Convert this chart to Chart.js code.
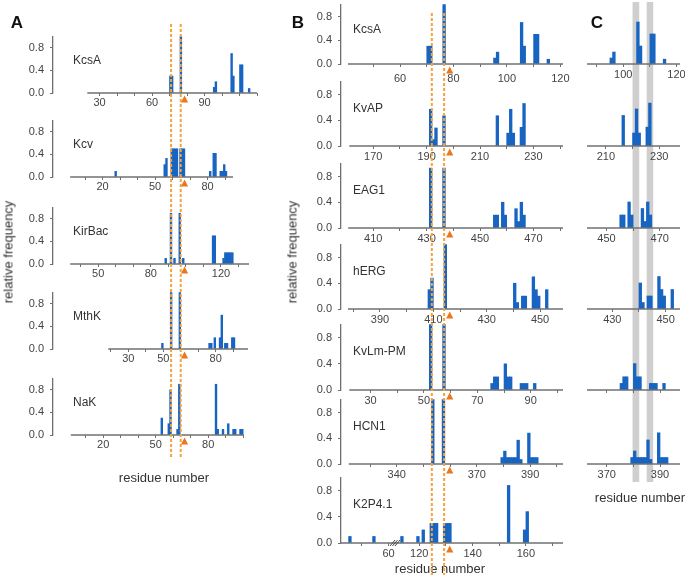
<!DOCTYPE html>
<html>
<head>
<meta charset="utf-8">
<script src="https://cdn.jsdelivr.net/npm/chart.js@4.4.1/dist/chart.umd.min.js"></script>
<style>
  body { margin: 0; background: #fff; width: 685px; height: 576px; position: relative; overflow: hidden;
         font-family: "Liberation Sans", Arial, sans-serif; }
  canvas { position: absolute; }
  .t { position: absolute; color: #333; white-space: nowrap; transform: translate(-50%, -50%); font-size: 13px; }
  .big { font-weight: bold; font-size: 17px; color: #111; }
  .rot { transform: translate(-50%, -50%) rotate(-90deg); }
</style>
</head>
<body>
<canvas id="back" width="685" height="576" style="left:0;top:0"></canvas>
<div id="charts"></div>
<canvas id="front" width="685" height="576" style="left:0;top:0;z-index:5;pointer-events:none"></canvas>

<div class="t big" style="left:17px;top:23px">A</div>
<div class="t big" style="left:298px;top:23px">B</div>
<div class="t big" style="left:597px;top:23px">C</div>
<div class="t rot" style="left:8px;top:252px">relative frequency</div>
<div class="t rot" style="left:292px;top:252px">relative frequency</div>
<div class="t" style="left:164px;top:477px">residue number</div>
<div class="t" style="left:440px;top:568px">residue number</div>
<div class="t" style="left:640px;top:497px">residue number</div>

<script>
// ---- data: residue number -> relative frequency ----
const kcsaRes  = [70, 71, 76, 95, 96, 105, 106, 110, 111, 115];
const kcsaFreq = [0.3, 0.3, 1.0, 0.1, 0.2, 0.7, 0.3, 0.5, 0.5, 0.08];

const kcvRes  = [27, 55, 56, 59, 60, 61, 62, 64, 65, 66, 81, 83, 84, 87, 88, 89, 90];
const kcvFreq = [0.1, 0.22, 0.33, 0.5, 0.5, 0.5, 0.5, 0.5, 0.5, 0.5, 0.1, 0.42, 0.42, 0.1, 0.1, 0.22, 0.1];

const kirbacRes  = [88, 91, 93, 96, 98, 115, 116, 121, 122, 123, 124, 125, 126];
const kirbacFreq = [0.1, 0.9, 0.1, 0.9, 0.1, 0.5, 0.5, 0.1, 0.2, 0.2, 0.2, 0.2, 0.2];

const mthkRes  = [49, 54, 59, 76, 77, 79, 82, 83, 85, 86, 89, 90];
const mthkFreq = [0.1, 1.0, 1.0, 0.1, 0.1, 0.2, 0.2, 0.6, 0.1, 0.1, 0.2, 0.2];

const nakRes  = [53, 57, 58, 62, 63, 84, 85, 88, 91, 94, 95, 98, 99];
const nakFreq = [0.3, 0.2, 0.8, 0.1, 0.9, 0.9, 0.1, 0.1, 0.2, 0.1, 0.1, 0.1, 0.1];

const kvapRes  = [191, 192, 193, 196, 216, 220, 221, 222, 225, 226];
const kvapFreq = [0.57, 0.1, 0.28, 0.47, 0.47, 0.2, 0.57, 0.2, 0.29, 0.66];

const eag1Res  = [431, 436, 455, 456, 458, 459, 463, 464, 465, 466];
const eag1Freq = [0.93, 0.93, 0.2, 0.2, 0.4, 0.2, 0.3, 0.1, 0.4, 0.2];

const hergRes  = [408, 409, 414, 440, 441, 443, 444, 447, 448, 449, 452];
const hergFreq = [0.3, 0.48, 1.0, 0.4, 0.1, 0.2, 0.2, 0.5, 0.3, 0.2, 0.3];

const kvlmRes  = [52, 57, 75, 76, 77, 80, 81, 82, 86, 87, 88, 91];
const kvlmFreq = [1.0, 1.0, 0.1, 0.2, 0.2, 0.4, 0.2, 0.2, 0.1, 0.1, 0.1, 0.1];

const hcn1Res  = [353, 357, 379, 380, 381, 382, 383, 384, 385, 386, 389, 390, 391, 392];
const hcn1Freq = [1.0, 1.0, 0.1, 0.2, 0.1, 0.1, 0.1, 0.1, 0.37, 0.07, 0.48, 0.1, 0.1, 0.1];

const k2pRes  = [45, 54, 113, 119, 121, 124, 125, 126, 129, 130, 131, 153, 159, 160];
const k2pFreq = [0.1, 0.1, 0.1, 0.1, 0.2, 0.3, 0.3, 0.3, 0.3, 0.3, 0.3, 0.88, 0.2, 0.48];

// labelled ticks on each x axis
const kcsaTicksA = [30, 60, 90];
const kcvTicks = [20, 50, 80];
const kirbacTicks = [50, 80, 120];
const mthkTicks = [30, 50, 80];
const nakTicks = [20, 50, 80];
const kcsaTicksB = [60, 80, 100, 120];
const kvapTicksB = [170, 190, 210, 230];
const eag1TicksB = [410, 430, 450, 470];
const hergTicksB = [390, 410, 430, 450];
const kvlmTicksB = [30, 50, 70, 90];
const hcn1TicksB = [340, 370, 390];
const k2pTicks = [60, 120, 140, 160];
const kcsaTicksC = [100, 120];
const kvapTicksC = [210, 230];
const eag1TicksC = [450, 470];
const hergTicksC = [430, 450];
const kvlmTicksC = [];
const hcn1TicksC = [370, 390];

const yTicks = [0, 0.2, 0.4, 0.6, 0.8, 1.0];
const yLabelled = [0, 0.4, 0.8];

// filter markers (in KcsA residue numbers of each column)
const filterLinesA = [70.9, 76.4];
const filterLinesB = [71.9, 76.5];
const arrowRes = 78.6;
const greyBandsC = [[103.5, 106], [108.8, 111.25]];

const AX = '#707070';
const BAR = '#1764c2';
const FONT = '"Liberation Sans", Arial, sans-serif';

const cols = {
  A: { left: 53, k: 1.75, yAxis: true, nameDx: 20 },
  B: { left: 341, k: 2.667, yAxis: true, nameDx: 12 },
  C: { left: 587, k: 2.667, yAxis: false }
};

const panels = [
  { col: 'A', name: 'KcsA', res: kcsaRes, freq: kcsaFreq, labels: kcsaTicksA, min: 3.4, max: 120, from: 23, base: 93, unit: 57, lp: 0.5 },
  { col: 'A', name: 'Kcv', res: kcvRes, freq: kcvFreq, labels: kcvTicks, min: -8.3, max: 94.5, from: 1.5, base: 177, unit: 57, lp: 0.5 },
  { col: 'A', name: 'KirBac', res: kirbacRes, freq: kirbacFreq, labels: kirbacTicks, min: 24.2, max: 136, from: 34, base: 264, unit: 57, lp: 0.5 },
  { col: 'A', name: 'MthK', res: mthkRes, freq: mthkFreq, labels: mthkTicks, min: -13.1, max: 98.5, from: 18.5, base: 349, unit: 57, lp: 0.5 },
  { col: 'A', name: 'NaK', res: nakRes, freq: nakFreq, labels: nakTicks, min: -8.7, max: 100.5, from: 1.5, base: 435, unit: 57, lp: 0.5 },

  { col: 'B', name: 'KcsA', res: kcsaRes, freq: kcsaFreq, labels: kcsaTicksB, min: 37.9, max: 121, from: 40.5, base: 64, unit: 60, lp: 5 },
  { col: 'B', name: 'KvAP', res: kvapRes, freq: kvapFreq, labels: kvapTicksB, min: 157.9, max: 241.1, from: 161, base: 146, unit: 65, lp: 1.5 },
  { col: 'B', name: 'EAG1', res: eag1Res, freq: eag1Freq, labels: eag1TicksB, min: 397.9, max: 481.1, from: 400.6, base: 228, unit: 65, lp: 1.5 },
  { col: 'B', name: 'hERG', res: hergRes, freq: hergFreq, labels: hergTicksB, min: 375.4, max: 458.6, from: 378, base: 309, unit: 65, lp: 1.5 },
  { col: 'B', name: 'KvLm-PM', res: kvlmRes, freq: kvlmFreq, labels: kvlmTicksB, min: 18.9, max: 102.1, from: 22, base: 390, unit: 66, lp: 1.5 },
  { col: 'B', name: 'HCN1', res: hcn1Res, freq: hcn1Freq, labels: hcn1TicksB, min: 319.1, max: 402.3, from: 322, base: 464, unit: 65, lp: 1.5 },
  { col: 'B', name: 'K2P4.1', res: k2pRes, freq: k2pFreq, labels: k2pTicks, min: 42.15, max: 125.4, from: 42.15, base: 543, unit: 66, lp: 1.5,
    shift: 48.5, brk: 62.4 },

  { col: 'C', res: kcsaRes, freq: kcsaFreq, labels: kcsaTicksC, min: 86.4, max: 121.3, base: 64, unit: 60, lp: 1.5 },
  { col: 'C', res: kvapRes, freq: kvapFreq, labels: kvapTicksC, min: 202.9, max: 237.8, base: 146, unit: 65, lp: 1.5 },
  { col: 'C', res: eag1Res, freq: eag1Freq, labels: eag1TicksC, min: 442.7, max: 477.6, base: 228, unit: 65, lp: 1.5 },
  { col: 'C', res: hergRes, freq: hergFreq, labels: hergTicksC, min: 420.5, max: 455.4, base: 309, unit: 65, lp: 1.5 },
  { col: 'C', res: kvlmRes, freq: kvlmFreq, labels: kvlmTicksC, min: 62.6, max: 97.5, base: 390, unit: 66, lp: 1.5 },
  { col: 'C', res: hcn1Res, freq: hcn1Freq, labels: hcn1TicksC, min: 362.6, max: 397.5, base: 464, unit: 65, lp: 1.5 }
];

// residue -> position on the (possibly broken) axis
function toX(p, r) {
  return p.shift && r >= 90 ? r - p.shift : r;
}

// tick marks every 10 residues along the drawn part of the axis
function tickResidues(p) {
  const from = p.from === undefined ? p.min : p.from;
  const hiReal = p.shift ? p.max + p.shift : p.max;
  const out = [];
  for (let v = Math.ceil(from / 10) * 10; v <= hiReal; v += 10) {
    const d = toX(p, v);
    if (d < from || d > p.max) continue;
    if (p.brk && ((v < 90 && d > p.brk - 1) || (v >= 90 && d < p.brk + 1))) continue;
    out.push(v);
  }
  return out;
}

// axis line, axis break and protein name, drawn per panel
function panelDeco(p) {
  return {
    id: 'panelDeco',
    afterDraw(chart) {
      const { ctx, chartArea: a, scales: { x, y } } = chart;
      const from = p.from === undefined ? p.min : p.from;
      ctx.save();
      ctx.strokeStyle = AX;
      ctx.lineWidth = 1.3;
      ctx.beginPath();
      ctx.moveTo(x.getPixelForValue(from), a.bottom);
      ctx.lineTo(x.getPixelForValue(p.max), a.bottom);
      ctx.stroke();
      if (p.brk) {
        const bx = x.getPixelForValue(p.brk);
        ctx.strokeStyle = '#444';
        ctx.lineWidth = 1;
        for (const dx of [-2.5, 0, 2.5]) {
          ctx.beginPath();
          ctx.moveTo(bx + dx - 2.5, a.bottom + 3);
          ctx.lineTo(bx + dx + 2.5, a.bottom - 3);
          ctx.stroke();
        }
      }
      if (p.name) {
        ctx.fillStyle = '#333';
        ctx.font = '12px ' + FONT;
        ctx.textBaseline = 'middle';
        ctx.fillText(p.name, a.left + cols[p.col].nameDx, y.getPixelForValue(0.58));
      }
      ctx.restore();
    }
  };
}

const holder = document.getElementById('charts');
const charts = panels.map(p => {
  const c = cols[p.col];
  const yw = c.yAxis ? 53 : 0;
  const padL = c.yAxis ? 0 : 20, padR = 20, padT = 12, xh = 24;
  const left = c.left - (c.yAxis ? yw : padL);
  const width = Math.round(c.left + (p.max - p.min) * c.k - left + padR);
  const top = p.base - p.unit - padT;
  const height = padT + p.unit + xh;

  const cv = document.createElement('canvas');
  cv.width = width; cv.height = height;
  cv.style.left = left + 'px'; cv.style.top = top + 'px';
  cv.style.width = width + 'px'; cv.style.height = height + 'px';
  holder.appendChild(cv);

  const ticksReal = tickResidues(p);
  const chart = new Chart(cv, {
    type: 'bar',
    data: {
      datasets: [{
        data: p.res.map((r, i) => ({ x: toX(p, r) + 0.5, y: p.freq[i] })),
        backgroundColor: BAR,
        borderWidth: 0,
        barThickness: c.k,
        clip: { left: 0, right: 0, top: false, bottom: 0 }
      }]
    },
    options: {
      responsive: false,
      animation: false,
      events: [],
      layout: { padding: { left: padL, right: padR, top: padT, bottom: 0 } },
      plugins: { legend: { display: false }, tooltip: { enabled: false } },
      scales: {
        x: {
          type: 'linear', min: p.min, max: p.max, offset: false,
          afterFit: s => { s.height = xh; },
          afterBuildTicks: s => { s.ticks = ticksReal.map(v => ({ value: toX(p, v) })); },
          grid: { drawOnChartArea: false, tickLength: 3, color: AX, lineWidth: 1, offset: false },
          border: { display: false },
          ticks: {
            autoSkip: false, maxRotation: 0, minRotation: 0, padding: p.lp,
            color: '#444', font: { family: FONT, size: 11 },
            callback: (v, i) => p.labels.includes(ticksReal[i]) ? String(ticksReal[i]) : ''
          }
        },
        y: {
          display: c.yAxis, min: 0, max: 1,
          afterFit: s => { s.width = yw; },
          afterBuildTicks: s => { s.ticks = yTicks.map(v => ({ value: v })); },
          grid: { drawOnChartArea: false, tickLength: 3, color: AX, lineWidth: 1 },
          border: { display: true, color: AX, width: 1.3 },
          ticks: {
            padding: 6, color: '#444', font: { family: FONT, size: 11 },
            callback: v => yLabelled.some(t => Math.abs(t - v) < 1e-6) ? v.toFixed(1) : ''
          }
        }
      }
    },
    plugins: [panelDeco(p)]
  });
  chart.$left = left;
  chart.$top = top;
  return chart;
});

// ---- overlays spanning the stacked panels ----
const gx = (ch, r) => ch.$left + ch.scales.x.getPixelForValue(r);
const gy = (ch, v) => ch.$top + ch.scales.y.getPixelForValue(v);
const refA = charts[panels.findIndex(p => p.col === 'A')];
const refB = charts[panels.findIndex(p => p.col === 'B')];
const refC = charts[panels.findIndex(p => p.col === 'C')];

const back = document.getElementById('back').getContext('2d');
back.fillStyle = '#cfcfcf';
greyBandsC.forEach(([a, b]) => {
  const x0 = gx(refC, a), x1 = gx(refC, b);
  back.fillRect(x0, 2, x1 - x0, 480);
});

const front = document.getElementById('front').getContext('2d');
front.strokeStyle = '#f5a33a';
front.lineWidth = 2;
front.setLineDash([3, 2]);
function vline(x, y0, y1) {
  front.beginPath(); front.moveTo(x, y0); front.lineTo(x, y1); front.stroke();
}
filterLinesA.forEach(r => vline(gx(refA, r), 24, 457));
filterLinesB.forEach(r => vline(gx(refB, r), 13, 575));

front.fillStyle = '#e8771f';
charts.forEach((ch, i) => {
  const col = panels[i].col;
  if (col === 'C') return;
  const tx = gx(col === 'A' ? refA : refB, arrowRes);
  const by = gy(ch, 0);
  front.beginPath();
  front.moveTo(tx, by + 2.5);
  front.lineTo(tx - 3.6, by + 9.5);
  front.lineTo(tx + 3.6, by + 9.5);
  front.closePath();
  front.fill();
});
</script>
</body>
</html>
